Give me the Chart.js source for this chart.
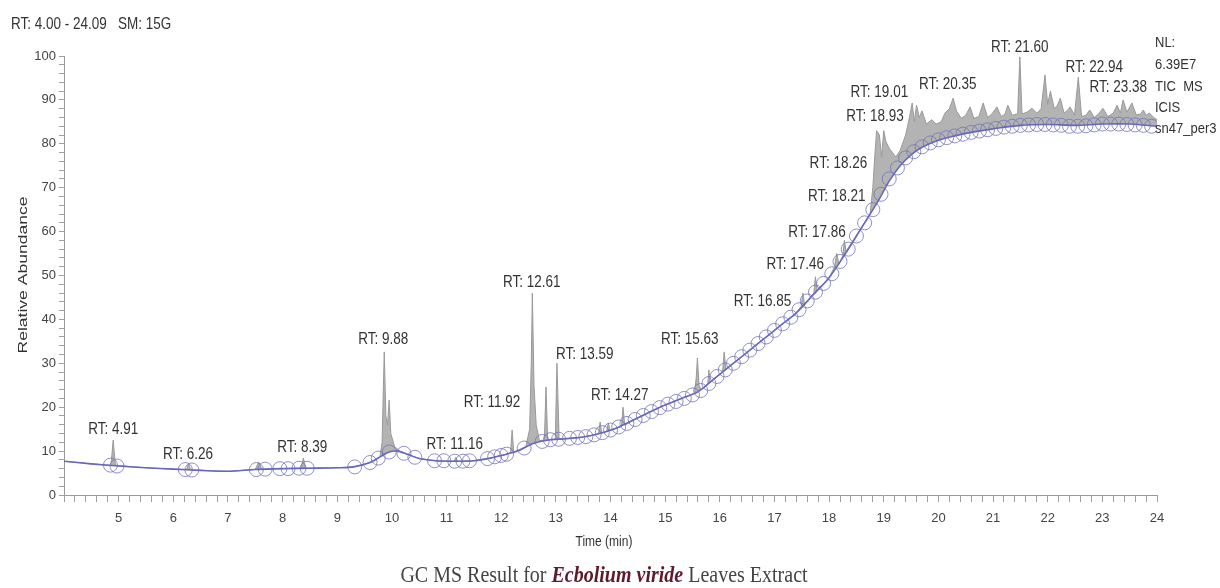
<!DOCTYPE html>
<html>
<head>
<meta charset="utf-8">
<script src="https://cdn.jsdelivr.net/npm/chart.js@4.4.1/dist/chart.umd.min.js"></script>
<style>
  body { margin: 0; background: #fff; }
  #wrap { position: relative; width: 1220px; height: 588px; }
  #caption {
    position: absolute; left: 0; top: 563px; width: 1208px; text-align: center;
    font-family: "Liberation Serif", "Times New Roman", serif; font-size: 20px; color: #444;
    transform: scaleY(1.15);
  }
  #caption b { color: #5e1b2b; font-style: italic; }
</style>
</head>
<body>
<div id="wrap">
  <canvas id="tic" width="1220" height="588"></canvas>
  <div id="caption">GC MS Result for <b>Ecbolium viride</b> Leaves Extract</div>
</div>
<script>
// TIC trace (time in min, relative abundance)
var traceTime = [
  4.00, 4.40, 4.80, 4.86, 4.90, 4.94, 5.50, 6.00, 6.24, 6.28, 6.32, 7.00, 7.50, 7.56, 7.62, 8.00,
  8.34, 8.38, 8.42, 9.00, 9.30, 9.60, 9.78, 9.82, 9.86, 9.89, 9.92, 9.95, 9.98, 10.05, 10.15, 10.30,
  10.50, 10.80, 11.14, 11.17, 11.20, 11.50, 11.80, 12.00, 12.17, 12.20, 12.23, 12.45, 12.52, 12.55, 12.57, 12.60,
  12.64, 12.70, 12.79, 12.82, 12.85, 12.99, 13.02, 13.06, 13.50, 13.78, 13.81, 13.84, 13.93, 13.96, 13.99, 14.20,
  14.23, 14.26, 14.70, 15.00, 15.30, 15.54, 15.57, 15.59, 15.62, 15.66, 15.78, 15.80, 15.82, 16.05, 16.08, 16.11,
  16.50, 16.80, 17.10, 17.40, 17.49, 17.52, 17.55, 17.72, 17.75, 17.78, 18.00, 18.10, 18.14, 18.18, 18.25, 18.28,
  18.31, 18.60, 18.75, 18.80, 18.84, 18.87, 18.92, 18.96, 19.00, 19.04, 19.10, 19.22, 19.30, 19.40, 19.47, 19.52,
  19.56, 19.60, 19.65, 19.70, 19.78, 19.88, 19.96, 20.05, 20.12, 20.20, 20.27, 20.33, 20.42, 20.50, 20.58, 20.65,
  20.74, 20.82, 20.90, 20.98, 21.07, 21.15, 21.22, 21.27, 21.35, 21.45, 21.49, 21.53, 21.62, 21.71, 21.80, 21.88,
  21.95, 22.00, 22.05, 22.12, 22.18, 22.23, 22.30, 22.36, 22.41, 22.49, 22.56, 22.62, 22.70, 22.77, 22.85, 22.93,
  23.01, 23.10, 23.20, 23.27, 23.33, 23.38, 23.45, 23.54, 23.62, 23.70, 23.75, 23.80, 23.86, 23.94, 24.00
];
var traceAbund = [
  7.7, 7.2, 6.8, 6.8, 12.5, 6.8, 6.2, 5.9, 5.8, 7.1, 5.7, 5.4, 5.8, 7.5, 5.9, 6.0,
  6.1, 8.4, 6.1, 6.2, 6.4, 7.4, 8.6, 12.0, 32.6, 18.0, 16.0, 21.6, 14.0, 11.0, 10.0, 9.2,
  8.3, 7.8, 7.7, 8.6, 7.7, 7.8, 8.4, 9.0, 9.6, 14.8, 9.8, 11.0, 15.0, 30.0, 46.0, 25.0,
  16.0, 12.4, 12.5, 24.6, 12.6, 12.7, 30.0, 12.8, 13.2, 13.9, 16.6, 14.1, 14.5, 16.4, 14.7, 15.6,
  20.0, 15.9, 18.8, 20.5, 22.0, 23.2, 27.0, 31.2, 25.0, 24.0, 25.2, 28.5, 25.6, 28.0, 32.6, 28.7,
  32.5, 35.5, 38.5, 41.5, 43.0, 46.0, 43.4, 46.0, 49.7, 46.6, 49.5, 52.0, 55.0, 52.6, 54.5, 58.0,
  55.5, 61.0, 64.0, 70.0, 78.0, 83.0, 82.0, 77.0, 83.0, 80.5, 79.0, 77.0, 78.5, 82.0, 86.0, 89.3,
  85.0, 88.8, 86.0, 87.5, 84.5, 85.5, 84.5, 85.0, 87.0, 88.0, 90.4, 87.5, 85.8, 86.5, 88.4, 85.8,
  86.2, 89.3, 86.0, 86.8, 88.4, 86.2, 86.8, 88.8, 86.5, 86.8, 99.8, 86.8, 87.2, 88.1, 87.0, 88.0,
  95.7, 89.0, 92.0, 88.0, 88.8, 90.4, 87.0, 87.6, 88.4, 86.5, 95.2, 86.2, 86.5, 87.7, 86.0, 86.8,
  88.1, 86.2, 87.0, 88.8, 87.0, 90.0, 87.2, 89.3, 86.6, 86.8, 87.7, 86.5, 87.0, 86.0, 85.5
];

// fitted baseline
var baseTime = [
  4.0, 4.5, 5.0, 5.5, 6.0, 6.5, 7.0, 7.5, 8.0, 8.5, 9.0, 9.3, 9.6, 9.8, 9.95, 10.1,
  10.3, 10.5, 10.8, 11.2, 11.5, 11.8, 12.0, 12.3, 12.6, 12.9, 13.2, 13.5, 13.8, 14.1, 14.4, 14.7,
  15.0, 15.3, 15.6, 15.9, 16.2, 16.5, 16.8, 17.1, 17.4, 17.7, 18.0, 18.3, 18.6, 18.9, 19.1, 19.3,
  19.5, 19.7, 20.0, 20.3, 20.6, 21.0, 21.5, 22.0, 22.5, 23.0, 23.5, 24.0
];
var baseAbund = [
  7.7, 7.1, 6.6, 6.2, 5.9, 5.6, 5.4, 5.8, 6.0, 6.1, 6.2, 6.4, 7.4, 8.8, 9.8, 10.0,
  9.2, 8.3, 7.8, 7.7, 7.8, 8.4, 9.0, 10.0, 11.8, 12.6, 12.8, 13.2, 14.0, 15.2, 17.0, 18.8,
  20.5, 22.0, 23.5, 26.5, 29.5, 32.5, 35.5, 38.5, 41.5, 45.5, 49.5, 55.0, 61.0, 67.0, 71.5, 75.0,
  77.5, 79.2, 80.8, 81.8, 82.6, 83.4, 84.2, 84.4, 84.2, 84.5, 84.5, 84.0
];

// baseline points (open circles)
var markTime = [
  4.85, 4.97, 6.22, 6.34, 7.52, 7.68, 7.95, 8.10, 8.30, 8.45, 9.32, 9.60, 9.75, 9.95, 10.22, 10.42,
  10.78, 10.95, 11.15, 11.30, 11.42, 11.75, 11.88, 12.00, 12.10, 12.42, 12.75, 12.90, 13.05,
  13.25, 13.40, 13.55, 13.70, 13.85, 14.00, 14.15, 14.30, 14.45, 14.60, 14.75, 14.90, 15.05, 15.20,
  15.35, 15.50, 15.65, 15.80, 15.95, 16.10, 16.25, 16.40, 16.55, 16.70, 16.85, 17.00, 17.15, 17.30,
  17.45, 17.60, 17.75, 17.90, 18.05, 18.20, 18.35, 18.50, 18.65, 18.80, 18.95, 19.10, 19.25, 19.40,
  19.55, 19.70, 19.85, 20.00, 20.15, 20.30, 20.45, 20.60, 20.75, 20.90, 21.05, 21.20, 21.35, 21.50,
  21.65, 21.80, 21.95, 22.10, 22.25, 22.40, 22.55, 22.70, 22.85, 23.00, 23.15, 23.30, 23.45, 23.60,
  23.75, 23.90
];
var markAbund = [
  6.8, 6.6, 5.8, 5.7, 5.8, 5.9, 6.0, 6.0, 6.1, 6.1, 6.4, 7.4, 8.4, 9.8, 9.5, 8.6,
  7.8, 7.8, 7.7, 7.7, 7.8, 8.3, 8.7, 9.0, 9.3, 10.7, 12.2, 12.6, 12.7,
  12.9, 13.1, 13.3, 13.7, 14.2, 14.8, 15.5, 16.3, 17.2, 18.1, 19.0, 19.9, 20.7, 21.3,
  22.0, 22.8, 23.8, 25.4, 27.0, 28.5, 30.0, 31.5, 33.0, 34.5, 36.0, 37.5, 39.0, 40.5,
  42.2, 44.2, 46.2, 48.2, 50.4, 53.2, 56.0, 59.0, 62.0, 65.0, 68.5, 72.0, 74.5, 76.8,
  78.2, 79.3, 80.2, 80.9, 81.4, 81.8, 82.2, 82.6, 82.9, 83.2, 83.5, 83.8, 84.0, 84.2,
  84.3, 84.4, 84.4, 84.3, 84.2, 84.0, 84.0, 84.1, 84.3, 84.5, 84.5, 84.5, 84.4, 84.3,
  84.2, 84.0
];

// peak annotations
var peakText = ["RT: 4.91", "RT: 6.26", "RT: 8.39", "RT: 9.88", "RT: 11.16", "RT: 11.92", "RT: 12.61",
  "RT: 13.59", "RT: 14.27", "RT: 15.63", "RT: 16.85", "RT: 17.46", "RT: 17.86", "RT: 18.21", "RT: 18.26",
  "RT: 18.93", "RT: 19.01", "RT: 20.35", "RT: 21.60", "RT: 22.94", "RT: 23.38"];
var peakTextTime = [4.90, 6.27, 8.36, 9.84, 11.15, 11.83, 12.56, 13.53, 14.17, 15.45, 16.78, 17.38, 17.78,
  18.14, 18.17, 18.84, 18.92, 20.17, 21.49, 22.85, 23.29];
var peakTextAbund = [14.8, 9.1, 10.9, 35.3, 11.4, 21.0, 48.3, 31.9, 22.6, 35.3, 44.0, 52.4, 59.7, 67.9,
  75.4, 86.1, 91.6, 93.4, 102.0, 97.3, 92.7];

var noteLines = ["NL:", "6.39E7", "TIC  MS", "ICIS", "sn47_per3"];

function pts(xs, ys) {
  return xs.map(function(t, i) { return { x: t, y: ys[i] }; });
}

var FONT = '"Liberation Sans", Arial, sans-serif';
Chart.defaults.font.family = FONT;

function stretchText(ctx, s, x, y) {
  ctx.save();
  ctx.translate(x, y);
  ctx.scale(1, 1.18);
  ctx.fillText(s, 0, 0);
  ctx.restore();
}

var textPlugin = {
  id: 'gcText',
  afterDraw: function(chart) {
    var ctx = chart.ctx, xs = chart.scales.x, ys = chart.scales.y;
    ctx.save();
    ctx.fillStyle = '#333';
    ctx.textBaseline = 'middle';

    ctx.font = '13.5px ' + FONT;
    ctx.textAlign = 'center';
    peakText.forEach(function(s, i) {
      stretchText(ctx, s, xs.getPixelForValue(peakTextTime[i]), ys.getPixelForValue(peakTextAbund[i]));
    });

    // header
    ctx.textAlign = 'left';
    ctx.font = '13.5px ' + FONT;
    stretchText(ctx, 'RT: 4.00 - 24.09   SM: 15G', 11, 25);

    // right notes
    ctx.font = '13px ' + FONT;
    var noteY = [43, 65, 87, 108, 129];
    noteLines.forEach(function(s, i) { stretchText(ctx, s, 1155, noteY[i]); });

    // axis titles
    ctx.textAlign = 'center';
    ctx.font = '12px ' + FONT;
    stretchText(ctx, 'Time (min)', 604, 542);

    ctx.save();
    ctx.translate(23, 275);
    ctx.rotate(-Math.PI / 2);
    ctx.font = '13.5px ' + FONT;
    var w = ctx.measureText('Relative Abundance').width;
    ctx.scale(157 / w, 1);
    ctx.fillText('Relative Abundance', 0, 0);
    ctx.restore();

    ctx.restore();
  }
};

new Chart(document.getElementById('tic').getContext('2d'), {
  type: 'line',
  data: {
    datasets: [{
      label: 'TIC',
      data: pts(traceTime, traceAbund),
      borderColor: '#999999',
      borderWidth: 1,
      pointRadius: 0,
      tension: 0,
      fill: { target: 1, above: '#b3b3b3', below: 'rgba(0,0,0,0)' },
      order: 3
    }, {
      label: 'Baseline',
      data: pts(baseTime, baseAbund),
      borderColor: '#6767bd',
      borderWidth: 1.6,
      pointRadius: 0,
      tension: 0.3,
      fill: false,
      order: 1
    }, {
      label: 'Points',
      data: pts(markTime, markAbund),
      showLine: false,
      pointRadius: 7,
      pointStyle: 'circle',
      pointBackgroundColor: 'rgba(255,255,255,0)',
      pointBorderColor: 'rgba(115,115,185,0.8)',
      pointBorderWidth: 1,
      fill: false,
      order: 2
    }]
  },
  options: {
    responsive: false,
    animation: false,
    events: [],
    layout: { padding: { top: 56, right: 63, left: 0, bottom: 0 } },
    plugins: { legend: { display: false }, tooltip: { enabled: false } },
    scales: {
      x: {
        type: 'linear', min: 4, max: 24,
        afterFit: function(s) { s.height = 93; },
        border: { display: true, color: '#9a9a9a', width: 1 },
        grid: { drawOnChartArea: false, drawTicks: true, tickLength: 7, tickColor: '#a0a0a0' },
        ticks: {
          stepSize: 0.2, autoSkip: false, maxTicksLimit: 200, maxRotation: 0, padding: 9,
          color: '#444', font: { size: 13 },
          callback: function(v) {
            var r = Math.round(v);
            return (Math.abs(v - r) < 1e-6 && r > 4) ? String(r) : '';
          }
        }
      },
      y: {
        type: 'linear', min: 0, max: 100,
        afterFit: function(s) { s.width = 64; },
        border: { display: true, color: '#9a9a9a', width: 1 },
        grid: { drawOnChartArea: false, drawTicks: true, tickLength: 5, tickColor: '#a0a0a0' },
        ticks: {
          stepSize: 2, autoSkip: false, maxTicksLimit: 100, padding: 3,
          color: '#444', font: { size: 13 },
          callback: function(v) {
            var r = Math.round(v);
            return r % 10 === 0 ? String(r) : '';
          }
        }
      }
    }
  },
  plugins: [textPlugin]
});
</script>
</body>
</html>
